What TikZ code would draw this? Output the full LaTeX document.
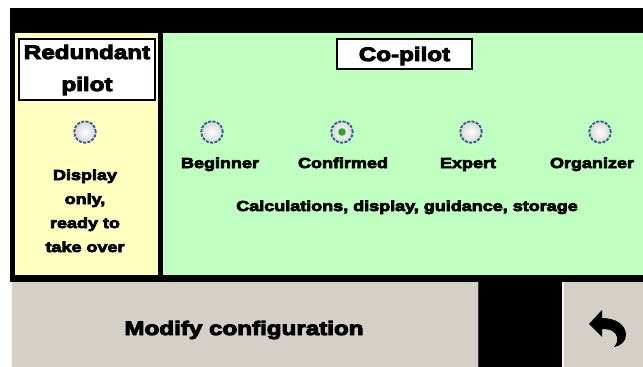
\documentclass[tikz,border=0pt]{standalone}
\usepackage{fontspec}
\setmainfont{Liberation Sans}
\newfontfamily\heavy{Liberation Sans Bold}[FakeBold=5, FakeStretch=1.24]
\usetikzlibrary{shadings}
\definecolor{panelyellow}{RGB}{255,255,192}
\definecolor{panelgreen}{RGB}{191,255,191}
\definecolor{btngray}{RGB}{212,208,200}
\definecolor{btnshadow}{RGB}{64,56,48}
\definecolor{radioring}{RGB}{48,90,145}
\definecolor{radiodot}{RGB}{40,170,40}
\tikzset{
  heading/.style={font=\heavy\fontsize{19.5}{32}\selectfont, align=center, inner sep=0pt},
  caption/.style={font=\heavy\fontsize{14.5}{24}\selectfont, align=center, inner sep=0pt},
  titlebox/.style={draw=black, line width=1.3pt, fill=white},
  radio/.style={circle, minimum size=21.5pt, inner sep=0pt, inner color=white, outer color=black!16,
                draw=radioring, line width=1.8pt, dash pattern=on 3pt off 1.4pt},
}
\begin{document}
\begin{tikzpicture}[x=1pt, y=-1pt]
  % canvas and frame
  \fill[white] (0,0) rectangle (643,367);
  \useasboundingbox (0,0) rectangle (643,367);
  \fill[black] (10,8) rectangle (643,367);

  % mode panels
  \fill[panelyellow] (15,33) rectangle (158,275);
  \fill[panelgreen] (163,33) rectangle (643,275);

  % panel titles
  \draw[titlebox] (19,39) rectangle (155,100);
  \node[heading, anchor=base] (rtitle) at (87,59) {Redundant};
  \node[heading, anchor=base] (rtitle2) at (87,91) {pilot};
  \draw[titlebox] (337,39) rectangle (472,69);
  \node[heading, anchor=base] (ctitle) at (404.5,61) {Co-pilot};

  % radio buttons
  \node[radio] (rred) at (85,132) {};
  \node[radio] (rbeg) at (212,132) {};
  \node[radio] (rcon) at (342,132) {};
  \node[radio] (rexp) at (471,132) {};
  \node[radio] (rorg) at (600,132) {};
  \fill[radiodot] (rcon.center) circle (3.8pt);

  % captions
  \node[caption, anchor=base] (lred1) at (85,180) {Display};
  \node[caption, anchor=base] (lred2) at (85,204) {only,};
  \node[caption, anchor=base] (lred3) at (85,228) {ready to};
  \node[caption, anchor=base] (lred4) at (85,252) {take over};
  \node[caption, anchor=base] (lbeg) at (220,168) {Beginner};
  \node[caption, anchor=base] (lcon) at (343,168) {Confirmed};
  \node[caption, anchor=base] (lexp) at (468,168) {Expert};
  \node[caption, anchor=base] (lorg) at (592,168) {Organizer};
  \node[caption, anchor=base] (lcopilot) at (407,211) {Calculations, display, guidance, storage};

  % bottom buttons
  \fill[btngray] (10,282) rectangle (479,367);
  \draw[white!92!btngray, line width=1.5pt] (10.75,282) -- (10.75,367);
  \draw[btnshadow, line width=1.2pt] (478.4,282) -- (478.4,367);
  \node[heading, anchor=base] (modify) at (244,335) {Modify configuration};

  \fill[btngray] (562,282) rectangle (643,367);
  \draw[white!92!btngray, line width=1.5pt] (562.75,282) -- (562.75,367);

  % undo arrow icon
  \fill[black] (589,324) -- (602,310) -- (602,318)
    .. controls (616,318) and (626,325) .. (626,335)
    .. controls (626,341) and (621,346) .. (614,347)
    .. controls (617,343) and (618,340) .. (617,337)
    .. controls (616,332) and (611,329) .. (602,329)
    -- (602,337) -- cycle;
\end{tikzpicture}
\end{document}
